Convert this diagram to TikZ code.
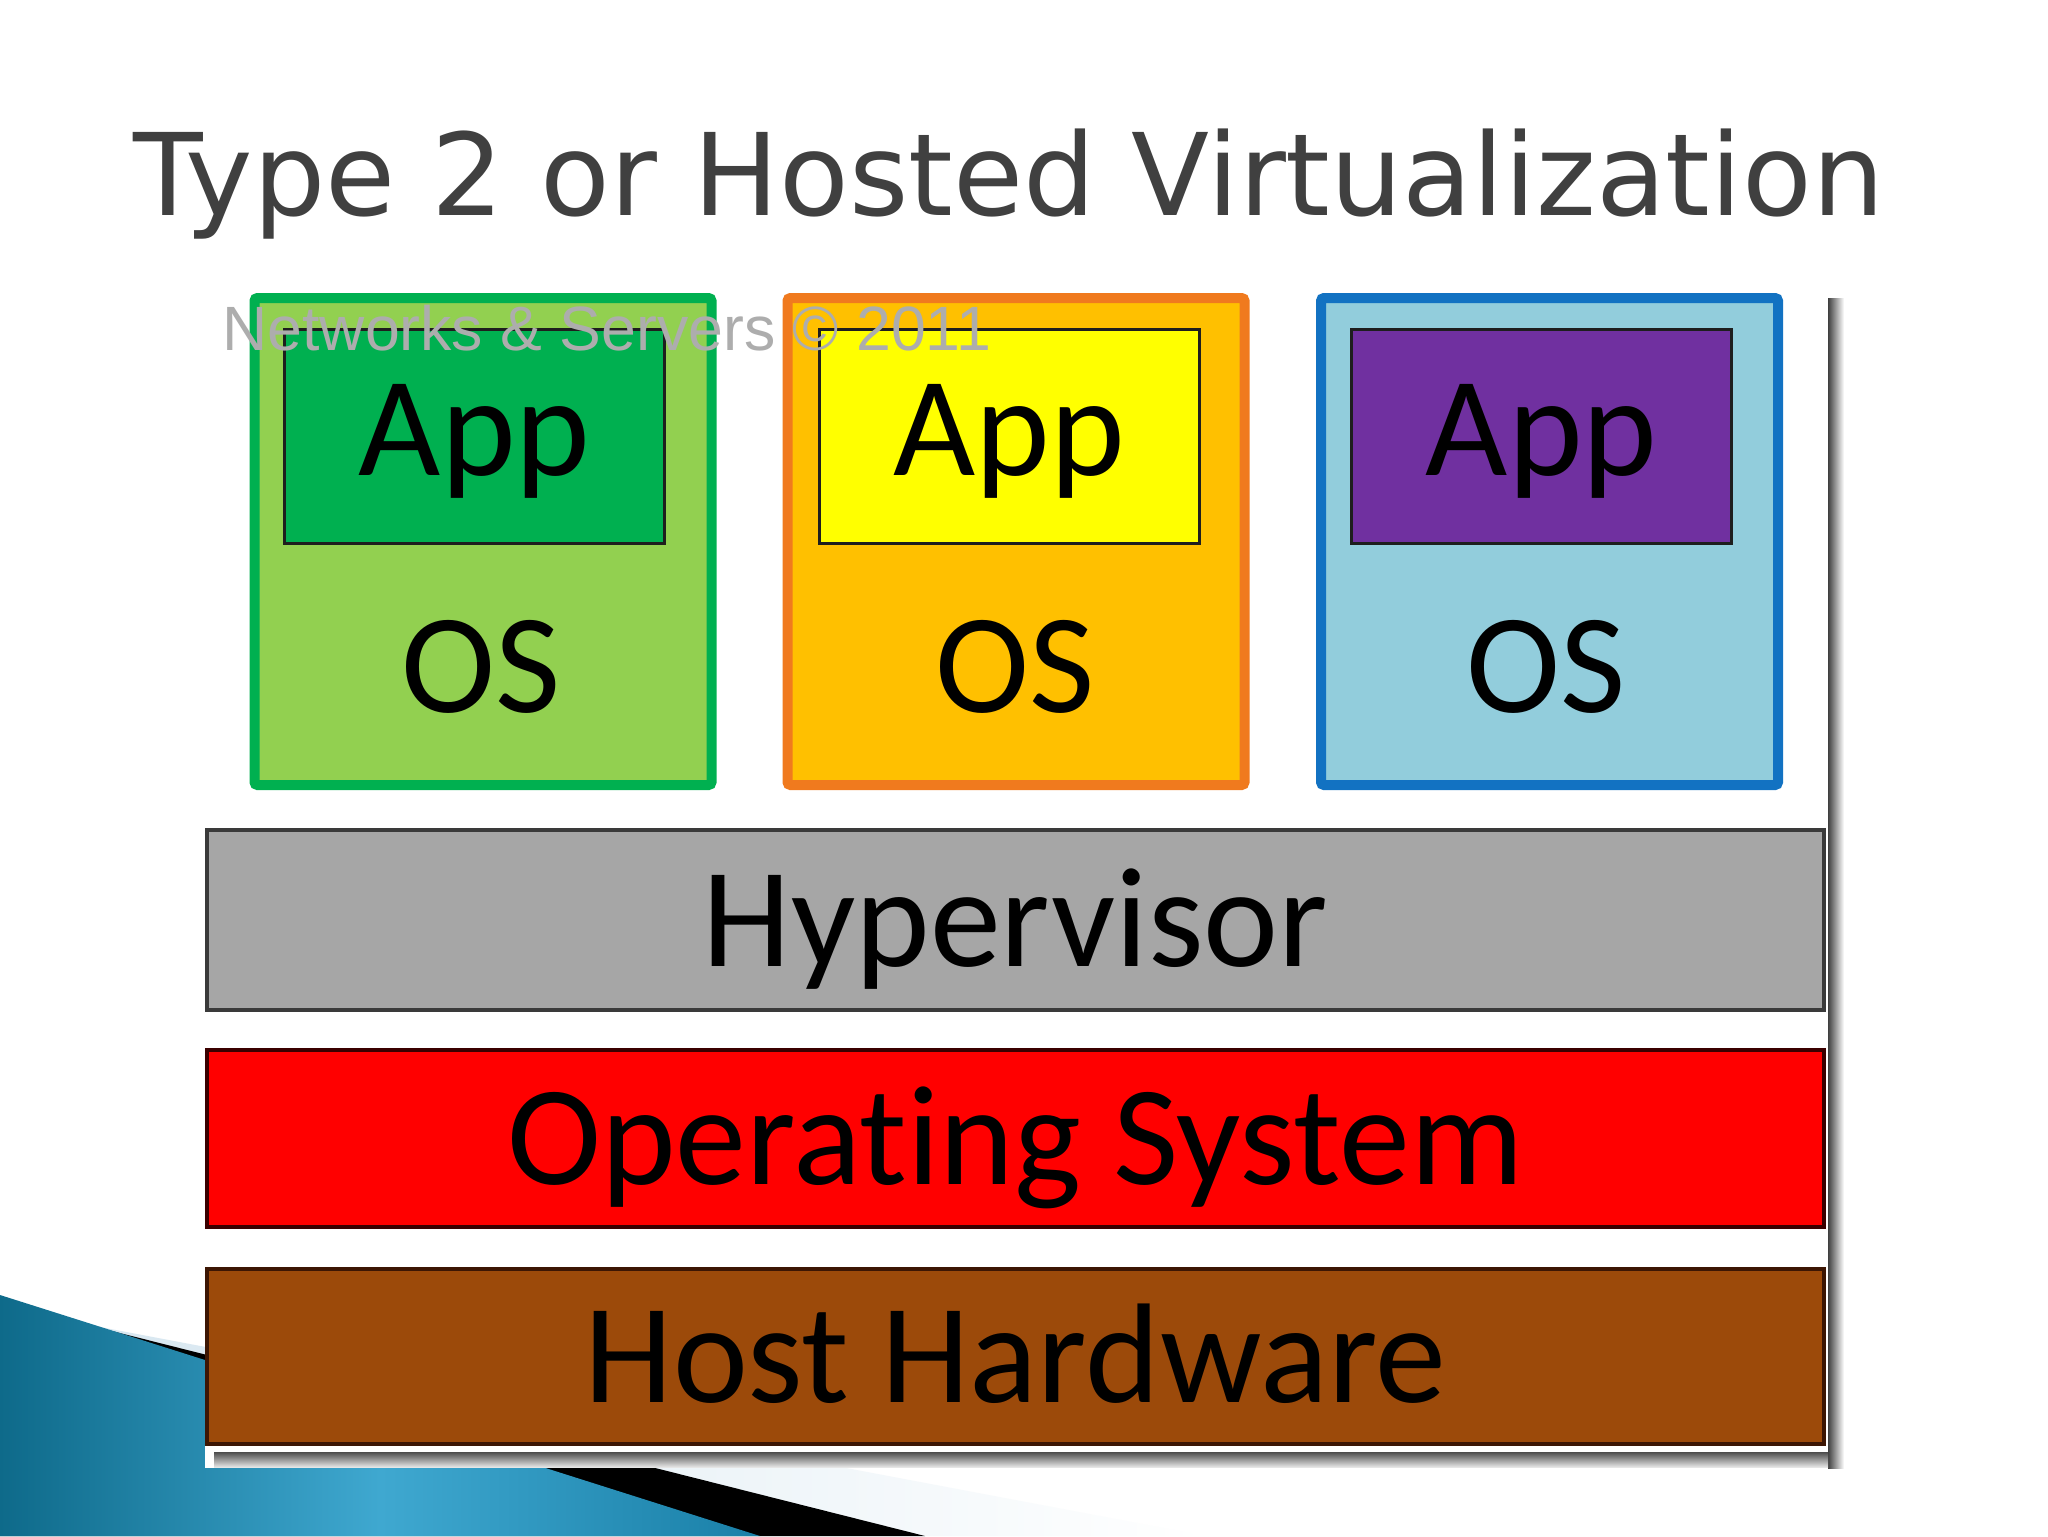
\documentclass[tikz,border=0pt]{standalone}
\usepackage{fontspec}
\setmainfont{Carlito}[Ligatures=NoCommon]
\newfontfamily\titlefont{DejaVu Sans}
\newfontfamily\markfont{Liberation Sans}
\definecolor{titlegray}{HTML}{404040}
\definecolor{vmgreen}{HTML}{92D050}
\definecolor{vmgreenline}{HTML}{00B050}
\definecolor{vmorange}{HTML}{FFC000}
\definecolor{vmorangeline}{HTML}{F07A1E}
\definecolor{vmblue}{HTML}{92CDDC}
\definecolor{vmblueline}{HTML}{1272C2}
\definecolor{appgreen}{HTML}{00B050}
\definecolor{appyellow}{HTML}{FFFF00}
\definecolor{apppurple}{HTML}{7030A0}
\definecolor{appline}{HTML}{1E1E1E}
\definecolor{hvgray}{HTML}{A6A6A6}
\definecolor{hvline}{HTML}{3A3A3A}
\definecolor{osred}{HTML}{FF0000}
\definecolor{osline}{HTML}{3A0000}
\definecolor{hwbrown}{HTML}{9C4A0A}
\definecolor{hwline}{HTML}{3C1604}
\definecolor{swdark}{HTML}{0E6A8A}
\definecolor{swmid}{HTML}{3FA8D0}
\definecolor{swedge}{HTML}{1A80A8}
\definecolor{swpale}{HTML}{D4E5EF}

\begin{document}
\begin{tikzpicture}[x=0.5pt, y=-0.5pt,
  vm/.style={draw, line width=5pt, rounded corners=1.5pt, minimum width=228.5pt, minimum height=243.5pt, inner sep=0pt},
  app/.style={draw=appline, line width=1.5pt, minimum width=190pt, minimum height=107pt, inner sep=0pt,
    font=\fontsize{71}{71}\selectfont, text height=38.5pt, text depth=0pt},
  layer/.style={draw, line width=2pt, minimum width=808.5pt, inner sep=0pt,
    font=\fontsize{71}{71}\selectfont, text height=46pt, text depth=0pt},
  lbl/.style={font=\fontsize{71}{71}\selectfont, inner sep=0pt, anchor=base}]
	\useasboundingbox (0,0) rectangle (2048,1536);
	\fill[white] (0,0) rectangle (2048,1536);
	% corner swoosh
	\shade[left color=swpale, right color=white] (100,1327)--(1206,1536)--(0,1536)--cycle;
	\fill[black] (100,1328)--(925,1536)--(0,1536)--cycle;
	\shade[left color=swdark, right color=swedge, middle color=swmid] (0,1295)--(760,1536)--(0,1536)--cycle;
	% slide picture
	\fill[white] (205,290) rectangle (1828,1468);
	\shade[left color=black!75, right color=white] (1828,298) rectangle (1844,1468);
	\shade[top color=black!70, bottom color=black!10] (214,1452) rectangle (1828,1467);

	\node[anchor=base, font=\titlefont\fontsize{57}{57}\selectfont, text=titlegray, inner sep=0pt] (title) at (1009,215) {Type 2 or Hosted Virtualization};

	\node[vm, draw=vmgreenline, fill=vmgreen] (vmA) at (483,541.5) {};
	\node[vm, draw=vmorangeline, fill=vmorange] (vmB) at (1016,541.5) {};
	\node[vm, draw=vmblueline, fill=vmblue] (vmC) at (1549.5,541.5) {};
	\node[app, fill=appgreen] (appA) at (474.5,436.5) {App};
	\node[app, fill=appyellow] (appB) at (1009,436.5) {App};
	\node[app, fill=apppurple] (appC) at (1541.5,436.5) {App};
	\node[lbl] (osA) at (481,712) {OS};
	\node[lbl] (osB) at (1015,712) {OS};
	\node[lbl] (osC) at (1546,712) {OS};

	\node[layer, draw=hvline, fill=hvgray, minimum height=90pt] (hyper) at (1015.5,920) {Hypervisor};
	\node[layer, draw=osline, fill=osred, minimum height=88.5pt] (hostos) at (1015.5,1138.5) {Operat\kern0pt ing System};
	\node[layer, draw=hwline, fill=hwbrown, minimum height=87.5pt] (hw) at (1015.5,1356.5) {Host Hardware};

	\node[anchor=base west, font=\markfont\fontsize{31.3}{31.3}\selectfont, text=black!32, inner sep=0pt] (mark) at (222,350) {Networks \& Servers © 2011};
\end{tikzpicture}
\end{document}
